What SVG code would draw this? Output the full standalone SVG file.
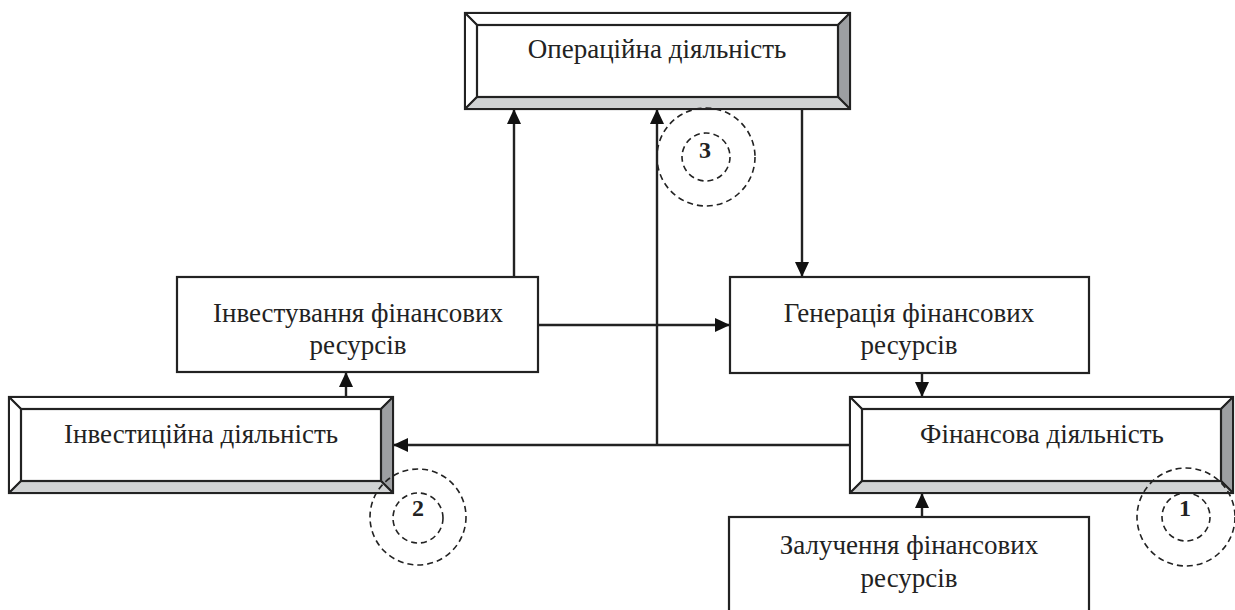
<svg xmlns="http://www.w3.org/2000/svg" width="1235" height="610" viewBox="0 0 1235 610">
<style>
.t{font-family:"Liberation Serif","Times New Roman",serif;font-size:27px;fill:#222;text-anchor:middle}
.n{font-family:"Liberation Serif","Times New Roman",serif;font-size:24px;font-weight:bold;fill:#222;text-anchor:middle}
.b{fill:#fff;stroke:#222;stroke-width:2.2}
.ln{stroke:#222;stroke-width:2.4;fill:none}
.dc{fill:none;stroke:#222;stroke-width:1.6;stroke-dasharray:6 4}
.rb{fill:#9d9fa2;stroke:#222;stroke-width:2;stroke-linejoin:round}
.bb{fill:#d0d2d3;stroke:#222;stroke-width:2;stroke-linejoin:round}
.wb{fill:#fff;stroke:#222;stroke-width:2;stroke-linejoin:round}
</style>
<defs>
<marker id="ah" viewBox="0 0 15 14" refX="15" refY="7" markerWidth="15" markerHeight="14" markerUnits="userSpaceOnUse" orient="auto">
<path d="M0,0 L15,7 L0,14 Z" fill="#111"/>
</marker>
</defs>
<rect width="1235" height="610" fill="#fff"/>

<g id="connectors">
<line class="ln" x1="514" y1="277" x2="514" y2="109" marker-end="url(#ah)"/>
<line class="ln" x1="657" y1="446" x2="657" y2="109" marker-end="url(#ah)"/>
<line class="ln" x1="802" y1="109" x2="802" y2="277" marker-end="url(#ah)"/>
<line class="ln" x1="538" y1="325" x2="730" y2="325" marker-end="url(#ah)"/>
<line class="ln" x1="922" y1="373" x2="922" y2="397" marker-end="url(#ah)"/>
<line class="ln" x1="922" y1="517" x2="922" y2="493" marker-end="url(#ah)"/>
<line class="ln" x1="850" y1="445" x2="393" y2="445" marker-end="url(#ah)"/>
<line class="ln" x1="346" y1="397" x2="346" y2="372" marker-end="url(#ah)"/>
</g>

<g id="operating">
<rect class="b" x="465" y="13" width="385" height="96"/>
<polygon class="wb" points="465,13 850,13 838,25 477,25"/>
<polygon class="wb" points="465,13 477,25 477,97 465,109"/>
<polygon class="rb" points="850,13 850,109 838,97 838,25"/>
<polygon class="bb" points="465,109 477,97 838,97 850,109"/>
<rect class="b" x="477" y="25" width="361" height="72"/>
<text class="t" x="657" y="58">Операційна діяльність</text>
</g>

<g id="investing-activity">
<rect class="b" x="9" y="397" width="384" height="96"/>
<polygon class="wb" points="9,397 393,397 381,409 21,409"/>
<polygon class="wb" points="9,397 21,409 21,481 9,493"/>
<polygon class="rb" points="393,397 393,493 381,481 381,409"/>
<polygon class="bb" points="9,493 21,481 381,481 393,493"/>
<rect class="b" x="21" y="409" width="360" height="72"/>
<text class="t" x="201" y="443">Інвестиційна діяльність</text>
</g>

<g id="financial-activity">
<rect class="b" x="850" y="397" width="383" height="96"/>
<polygon class="wb" points="850,397 1233,397 1221,409 862,409"/>
<polygon class="wb" points="850,397 862,409 862,481 850,493"/>
<polygon class="rb" points="1233,397 1233,493 1221,481 1221,409"/>
<polygon class="bb" points="850,493 862,481 1221,481 1233,493"/>
<rect class="b" x="862" y="409" width="359" height="72"/>
<text class="t" x="1042" y="443">Фінансова діяльність</text>
</g>

<g id="investing-resources">
<rect class="b" x="177" y="277" width="361" height="95"/>
<text class="t" x="358" y="322">Інвестування фінансових</text>
<text class="t" x="358" y="354">ресурсів</text>
</g>

<g id="generation">
<rect class="b" x="730" y="277" width="359" height="96"/>
<text class="t" x="909" y="322">Генерація фінансових</text>
<text class="t" x="909" y="354">ресурсів</text>
</g>

<g id="attraction">
<rect class="b" x="729" y="517" width="360" height="110"/>
<text class="t" x="909" y="554">Залучення фінансових</text>
<text class="t" x="909" y="587">ресурсів</text>
</g>

<g id="circle-3">
<circle class="dc" cx="706" cy="157" r="49"/>
<circle class="dc" cx="706" cy="157" r="24"/>
<text class="n" x="705" y="158">3</text>
</g>
<g id="circle-2">
<circle class="dc" cx="418" cy="517" r="48"/>
<circle class="dc" cx="418" cy="518" r="25"/>
<text class="n" x="418" y="516">2</text>
</g>
<g id="circle-1">
<circle class="dc" cx="1186" cy="517" r="49"/>
<circle class="dc" cx="1186" cy="517" r="24"/>
<text class="n" x="1185" y="516">1</text>
</g>
</svg>
